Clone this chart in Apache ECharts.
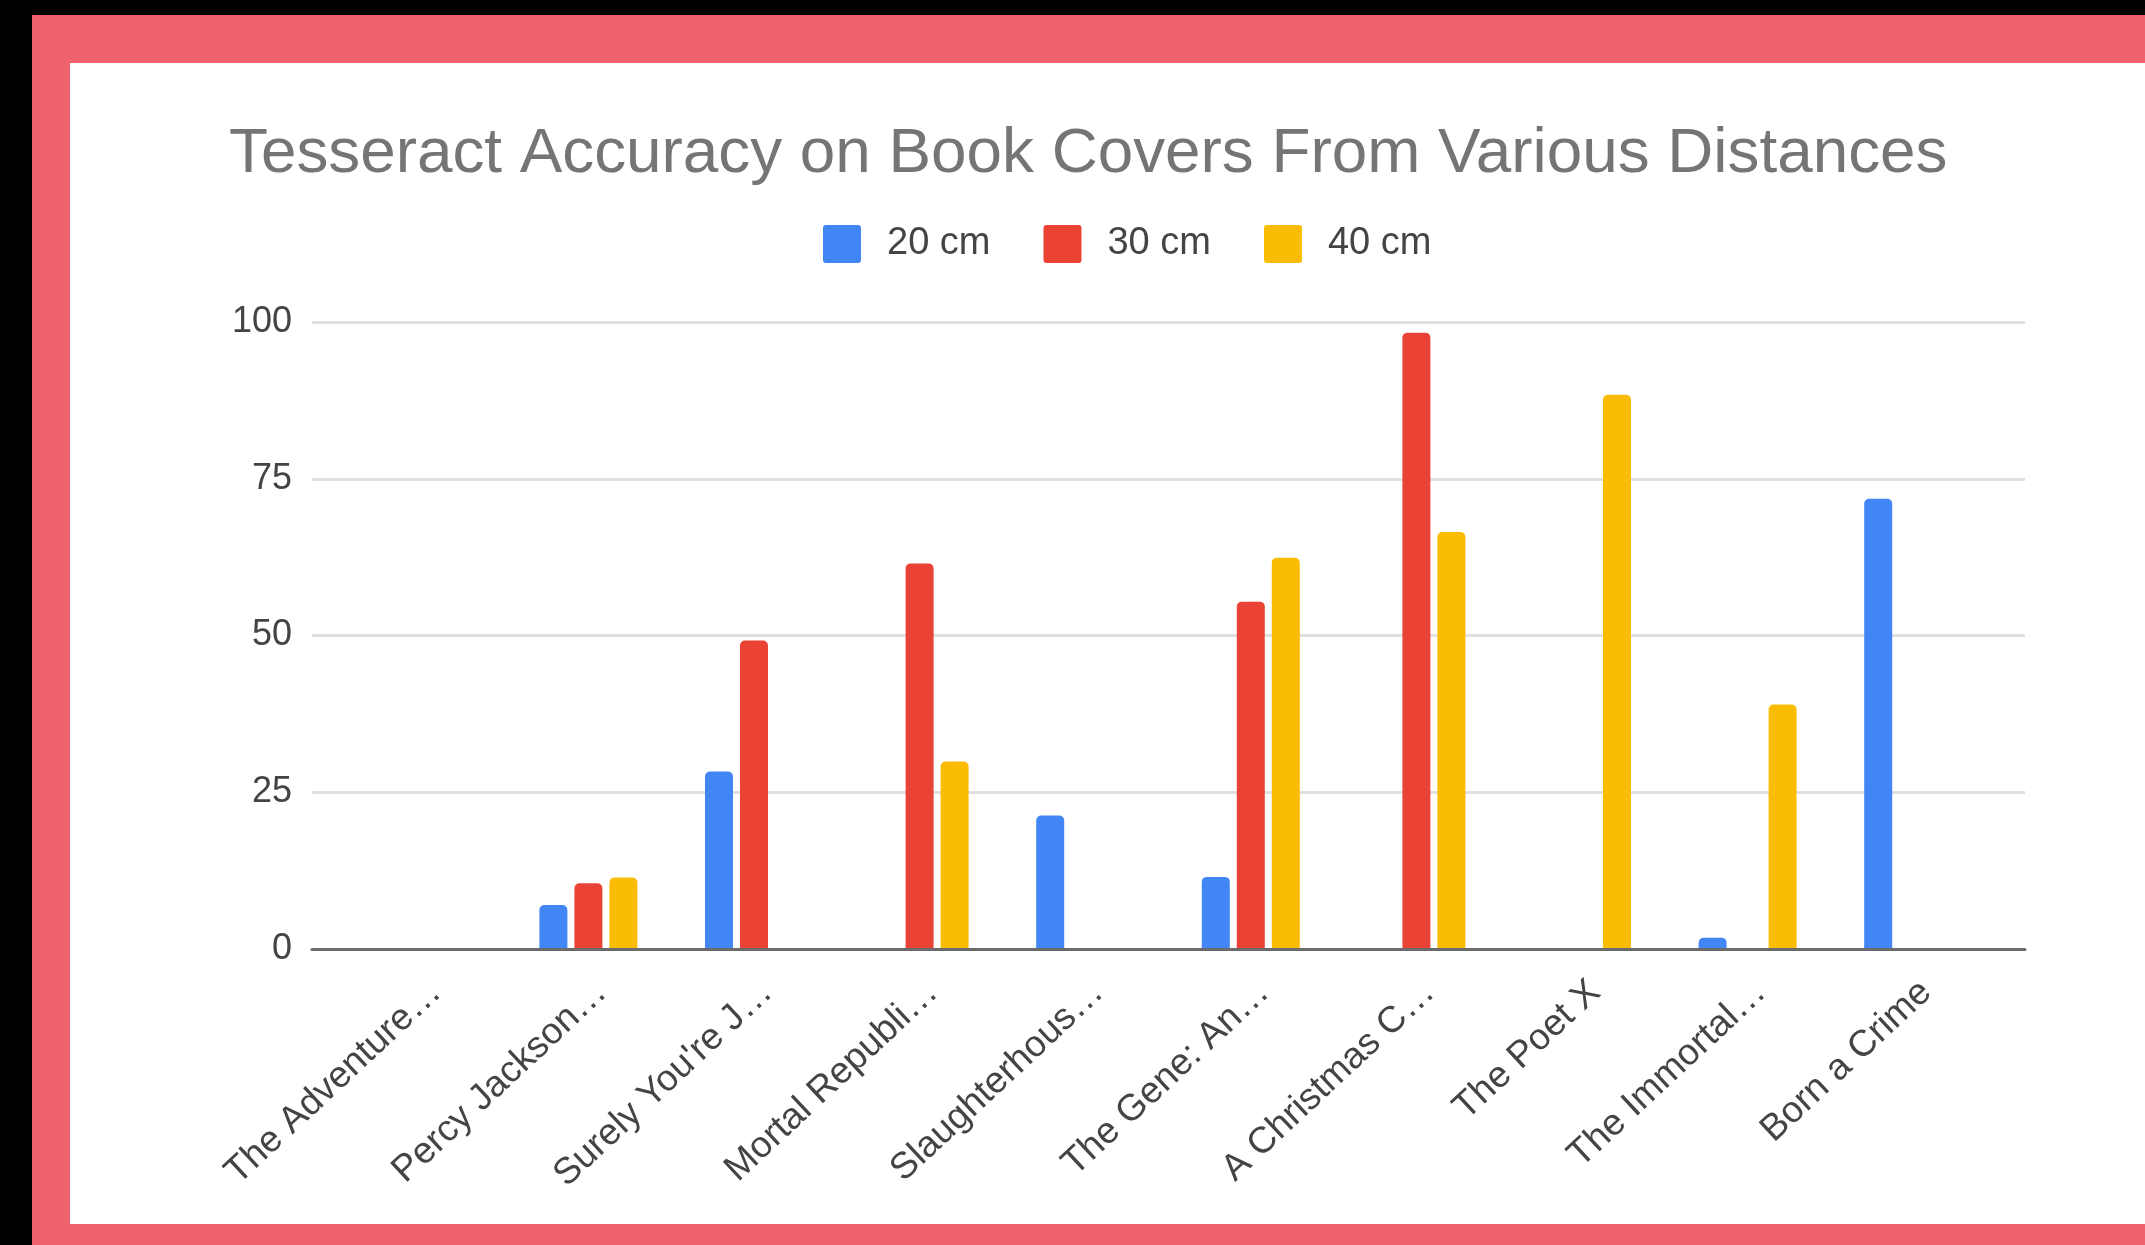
<!DOCTYPE html>
<html>
<head>
<meta charset="utf-8">
<script src="https://cdn.jsdelivr.net/npm/echarts@6/dist/echarts.min.js"></script>
<style>
	html, body { margin: 0; padding: 0; background: #000; width: 2145px; height: 1245px; overflow: hidden; }
	#frame { position: absolute; left: 32px; top: 15px; width: 2113px; height: 1230px; background: #ef626b; }
	#chart { position: absolute; left: 70px; top: 63px; width: 2075px; height: 1161px; background: #fff; }
</style>
</head>
<body>
<div id="frame"></div>
<div id="chart"></div>
<script>
	var books = ['The Adventure…', 'Percy Jackson…', 'Surely You\'re J…', 'Mortal Republi…', 'Slaughterhous…',
		'The Gene: An…', 'A Christmas C…', 'The Poet X', 'The Immortal…', 'Born a Crime'];

	var cm20 = [0, 7, 28.3, 0, 21.3, 11.5, 0, 0, 1.8, 71.8];
	var cm30 = [0, 10.5, 49.2, 61.5, 0, 55.4, 98.3, 0, 0, 0];
	var cm40 = [0, 11.4, 0, 29.9, 0, 62.4, 66.5, 88.4, 39, 0];

	var yTicks = [0, 25, 50, 75, 100];

	var FONT = '"Liberation Sans", Arial, sans-serif';

	// small square with slightly rounded corners, like the legend keys
	var KEY_ICON = 'path://M3,0 H35 Q38,0 38,3 V35 Q38,38 35,38 H3 Q0,38 0,35 V3 Q0,0 3,0 Z';

	function barSeries(name, data, color){
		return {
			name: name,
			type: 'bar',
			xAxisIndex: 1,
			yAxisIndex: 1,
			data: data,
			barWidth: 28,
			barGap: '25%',
			itemStyle: {
				color: color,
				borderRadius: [5, 5, 0, 0]
			}
		};
	}

	var chart = echarts.init(document.getElementById('chart'));

	chart.setOption({
		backgroundColor: '#ffffff',
		animation: false,
		title: {
			text: 'Tesseract Accuracy on Book Covers From Various Distances',
			left: 159,
			top: 59,
			padding: 0,
			textStyle: {
				fontFamily: FONT,
				fontSize: 63.8,
				fontWeight: 'normal',
				color: '#757575'
			}
		},
		legend: {
			left: 753,
			top: 162,
			padding: 0,
			itemWidth: 38,
			itemHeight: 38,
			itemGap: 53,
			icon: KEY_ICON,
			textStyle: {
				fontFamily: FONT,
				fontSize: 38,
				color: '#444',
				padding: [0, 0, 0, 21]
			},
			data: ['20 cm', '30 cm', '40 cm']
		},
		// 0: gridlines + baseline, 1: bars, 2: category labels (slightly shifted right)
		grid: [
			{ left: 242, right: 120, top: 259, bottom: 275 },
			{ left: 270, right: 149, top: 259, bottom: 275 },
			{ left: 283, right: 136, top: 259, bottom: 275 }
		],
		xAxis: [
			{
				type: 'category',
				gridIndex: 0,
				data: [''],
				axisLine: { show: true, lineStyle: { color: '#6b6b6b', width: 3 } },
				axisTick: { show: false },
				axisLabel: { show: false },
				z: 5
			},
			{
				type: 'category',
				gridIndex: 1,
				data: books,
				axisLine: { show: false },
				axisTick: { show: false },
				axisLabel: { show: false }
			},
			{
				type: 'category',
				gridIndex: 2,
				data: books,
				axisLine: { show: false },
				axisTick: { show: false },
				axisLabel: {
					rotate: 43,
					margin: 38,
					interval: 0,
					fontFamily: FONT,
					fontSize: 37,
					color: '#444'
				}
			}
		],
		yAxis: [
			{
				type: 'value',
				gridIndex: 0,
				min: yTicks[0],
				max: yTicks[yTicks.length - 1],
				interval: 25,
				axisLine: { show: false },
				axisTick: { show: false },
				axisLabel: {
					margin: 20,
					fontFamily: FONT,
					fontSize: 36,
					color: '#444'
				},
				splitLine: { lineStyle: { color: '#e0e0e0', width: 3 } }
			},
			{
				type: 'value',
				gridIndex: 1,
				min: 0,
				max: 100,
				show: false,
				splitLine: { show: false }
			},
			{
				type: 'value',
				gridIndex: 2,
				min: 0,
				max: 100,
				show: false,
				splitLine: { show: false }
			}
		],
		series: [
			barSeries('20 cm', cm20, '#4285f4'),
			barSeries('30 cm', cm30, '#ea4335'),
			barSeries('40 cm', cm40, '#fbbc04')
		]
	});
</script>
</body>
</html>
